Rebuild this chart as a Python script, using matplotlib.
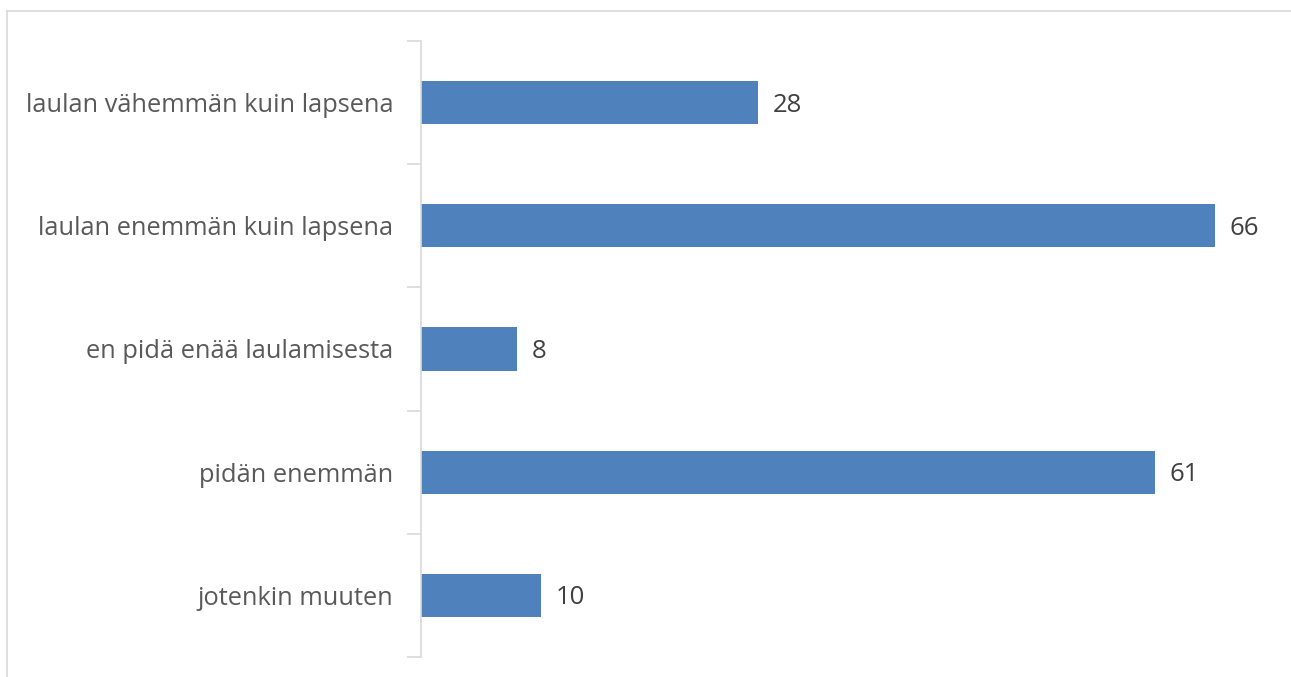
import matplotlib
matplotlib.use("Agg")
import matplotlib.pyplot as plt
from matplotlib.lines import Line2D

categories = ["laulan vähemmän kuin lapsena", "laulan enemmän kuin lapsena",
              "en pidä enää laulamisesta", "pidän enemmän", "jotenkin muuten"]
values = [28, 66, 8, 61, 10]

plt.rcParams['font.family'] = ['Open Sans', 'DejaVu Sans']

W, H = 1291, 677
fig = plt.figure(figsize=(W / 100, H / 100), dpi=100)
fig.patch.set_facecolor("white")

# outer frame (cut at right/bottom)
fx0, fy0 = 7 / W, 1 - 11 / H
fig.add_artist(Line2D([fx0, 1.0], [fy0, fy0], transform=fig.transFigure, color="#d9d9d9", lw=1.2))
fig.add_artist(Line2D([fx0, fx0], [fy0, 0.0], transform=fig.transFigure, color="#d9d9d9", lw=1.2))

left, right, top, bottom = 421, 421 + 70 * 12.03, 41, 657
ax = fig.add_axes([left / W, 1 - bottom / H, (right - left) / W, (bottom - top) / H])

n = len(categories)
ypos = list(range(n))
ax.barh(ypos, values, height=0.35, color="#4F81BD")
ax.set_ylim(n - 0.5, -0.5)
ax.set_xlim(0, 70)

for y, v in zip(ypos, values):
    ax.text(v + 1.2, y + 0.02, str(v), va="center", ha="left", fontsize=18.5, color="#404040")

ax.set_yticks([i - 0.5 for i in range(n + 1)])
ax.set_yticklabels([])
ax.set_yticks(ypos, minor=True)
ax.set_yticklabels(categories, minor=True, fontsize=18.3, color="#595959")
ax.tick_params(axis="y", which="major", length=10, color="#d9d9d9", width=1.2)
ax.tick_params(axis="y", which="minor", length=0, pad=20)
ax.set_xticks([])

for s in ["top", "right", "bottom"]:
    ax.spines[s].set_visible(False)
ax.spines["left"].set_color("#d9d9d9")
ax.spines["left"].set_linewidth(1.2)

fig.savefig("out.png", dpi=100)
